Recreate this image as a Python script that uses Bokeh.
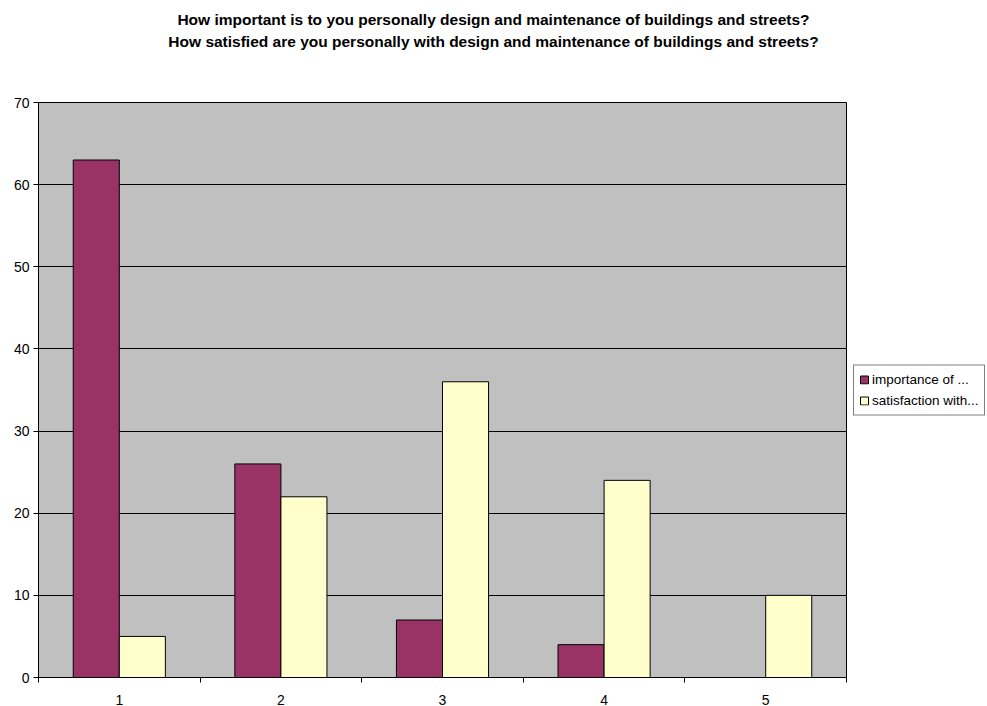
from bokeh.plotting import figure
from bokeh.models import ColumnDataSource, FixedTicker, Range1d, Legend, LegendItem, Div
from bokeh.layouts import column
from bokeh.embed import file_html
from bokeh.resources import INLINE

categories = [1, 2, 3, 4, 5]
importance = [63, 26, 7, 4, 0]
satisfaction = [5, 22, 36, 24, 10]
series_names = ["importance of ...", "satisfaction with..."]
title_lines = ["How important is to you personally design and maintenance of buildings and streets?",
               "How satisfied are you personally with design and maintenance of buildings and streets?"]

FONT = "Liberation Sans"
W = 0.285
TOP = 60

p = figure(frame_width=808, frame_height=575, output_backend="svg", toolbar_location=None,
           x_range=Range1d(0.5, 5.5), y_range=Range1d(0, 70),
           min_border_left=38, min_border_right=141, min_border_top=102 - TOP, min_border_bottom=29,
           margin=0)
p.background_fill_color = "#C0C0C0"
p.border_fill_color = "white"
p.outline_line_color = "black"
p.outline_line_width = 1

src = ColumnDataSource(dict(x1=[c - W / 2 for c in categories], x2=[c + W / 2 for c in categories],
                            imp=importance, sat=satisfaction))
r1 = p.vbar(x="x1", top="imp", width=W, source=src, fill_color="#993366", line_color="black", line_width=1)
r2 = p.vbar(x="x2", top="sat", width=W, source=src, fill_color="#FFFFCC", line_color="black", line_width=1)

p.xgrid.visible = False
p.ygrid.grid_line_color = "black"
p.ygrid.grid_line_width = 1

p.yaxis.ticker = FixedTicker(ticks=list(range(0, 71, 10)))
p.xaxis.ticker = FixedTicker(ticks=categories, minor_ticks=[c - 0.5 for c in categories] + [5.5])
for ax in (p.xaxis[0], p.yaxis[0]):
    ax.axis_line_color = "black"
    ax.major_label_text_font = FONT
    ax.major_label_text_font_size = "14px"
    ax.major_label_text_color = "black"
p.yaxis.major_tick_out = 5
p.yaxis.major_tick_in = 0
p.yaxis.minor_tick_line_color = None
p.yaxis.major_label_standoff = 4
p.xaxis.major_tick_line_color = None
p.xaxis.major_tick_out = 0
p.xaxis.major_tick_in = 0
p.xaxis.minor_tick_out = 5
p.xaxis.minor_tick_in = 0
p.xaxis.minor_tick_line_color = "black"
p.xaxis.major_label_standoff = 12

legend = Legend(items=[LegendItem(label=series_names[0], renderers=[r1]),
                       LegendItem(label=series_names[1], renderers=[r2])],
                location="center_left", orientation="vertical")
legend.label_text_font = FONT
legend.label_text_font_size = "13.5px"
legend.label_text_color = "black"
legend.glyph_width = 10
legend.glyph_height = 10
legend.label_standoff = 3
legend.spacing = 3
legend.padding = 5
legend.margin = 7
legend.label_height = 18
legend.border_line_color = "black"
legend.background_fill_color = "white"
p.add_layout(legend, "right")

title = Div(text='<div style="padding-top:9px">' + "<br>".join(title_lines) + "</div>",
            width=987, height=TOP, margin=0,
            styles={"text-align": "center", "font-family": FONT, "font-size": "15.5px",
                    "font-weight": "bold", "line-height": "22px", "color": "black"})

layout = column(title, p, spacing=0)
open("out.html", "w").write(file_html(layout, INLINE))
